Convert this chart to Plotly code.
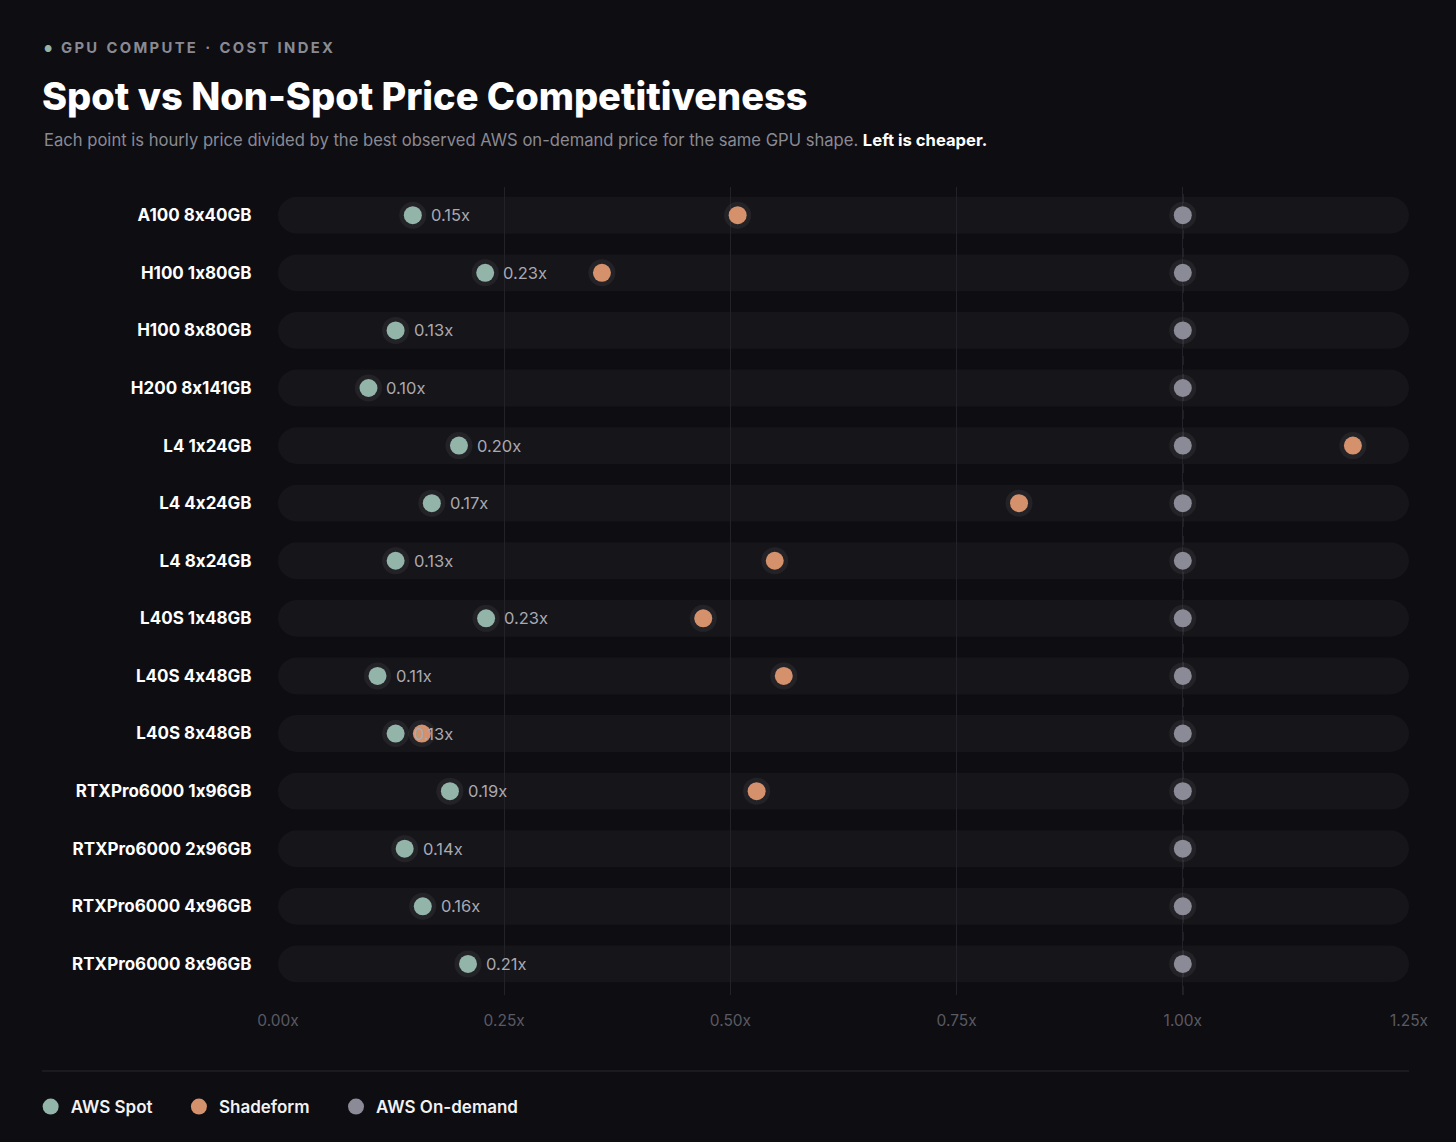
import plotly.graph_objects as go

# data (ratio to best AWS on-demand price)
shapes_gpu = ["A100 8x40GB", "H100 1x80GB", "H100 8x80GB", "H200 8x141GB",
              "L4 1x24GB", "L4 4x24GB", "L4 8x24GB", "L40S 1x48GB",
              "L40S 4x48GB", "L40S 8x48GB", "RTXPro6000 1x96GB",
              "RTXPro6000 2x96GB", "RTXPro6000 4x96GB", "RTXPro6000 8x96GB"]
aws_spot = [0.149, 0.229, 0.13, 0.10, 0.20, 0.17, 0.13, 0.23, 0.11, 0.13,
            0.19, 0.14, 0.16, 0.21]
shadeform = [0.508, 0.358, None, None, 1.188, 0.819, 0.549, 0.470, 0.559,
             0.159, 0.529, None, None, None]
aws_ondemand = [1.0] * 14
tick_vals = [0, 0.25, 0.5, 0.75, 1.0, 1.25]
tick_text = ["0.00x", "0.25x", "0.50x", "0.75x", "1.00x", "1.25x"]

BG = "#0e0d12"
SPOT_C = "#93b4a9"
SHADE_C = "#d4916c"
OD_C = "#8b8a97"
FONT = "Inter"
NO_CALT = "font-feature-settings:'calt' 0;font-variant-ligatures:no-contextual"
PAD = "\u00a0" * 5  # a bit more room between legend items

rows = list(range(len(shapes_gpu)))
X_MAX = 1.25


def pill(x0, x1, yc, h, rx, k=0.5523):
    return (f"M {x0+rx},{yc-h} L {x1-rx},{yc-h} "
            f"C {x1-rx+k*rx},{yc-h} {x1},{yc-k*h} {x1},{yc} "
            f"C {x1},{yc+k*h} {x1-rx+k*rx},{yc+h} {x1-rx},{yc+h} "
            f"L {x0+rx},{yc+h} "
            f"C {x0+rx-k*rx},{yc+h} {x0},{yc+k*h} {x0},{yc} "
            f"C {x0},{yc-k*h} {x0+rx-k*rx},{yc-h} {x0+rx},{yc-h} Z")


fig = go.Figure()

# soft halos behind each dot
for xs in (aws_ondemand, shadeform, aws_spot):
    fig.add_trace(go.Scatter(x=xs, y=rows, mode="markers", hoverinfo="skip",
                             showlegend=False,
                             marker=dict(size=27, color="rgba(255,255,255,0.06)")))

fig.add_trace(go.Scatter(x=aws_ondemand, y=rows, mode="markers", name="AWS On-demand",
                         legendrank=3, marker=dict(size=18, color=OD_C)))
fig.add_trace(go.Scatter(x=shadeform, y=rows, mode="markers", name="Shadeform" + PAD,
                         legendrank=2, marker=dict(size=18, color=SHADE_C)))
fig.add_trace(go.Scatter(x=aws_spot, y=rows, mode="markers", name="AWS Spot" + PAD,
                         legendrank=1, marker=dict(size=18, color=SPOT_C)))

shapes = []
for r in rows:
    shapes.append(dict(type="path", xref="x", yref="y", layer="below",
                       path=pill(0, X_MAX, r, 0.32, 0.021),
                       fillcolor="rgba(255,255,255,0.035)", line=dict(width=0)))
shapes.append(dict(type="line", xref="x", yref="paper", x0=1.0, x1=1.0, y0=0, y1=1,
                   layer="below", line=dict(color="#3d3d45", width=1.2, dash="dash")))
shapes.append(dict(type="line", xref="paper", yref="paper", x0=-0.2087, x1=1,
                   y0=-0.094, y1=-0.094, line=dict(color="#1f1f24", width=1.5)))

eyebrow = "\u2009".join("GPU COMPUTE · COST INDEX").replace("\u2009 \u2009", "\u2009\u2009\u2009\u2009")
annotations = [
    dict(text="●", x=-0.2087, y=1.172, xref="paper", yref="paper", xanchor="left",
         yanchor="middle", showarrow=False, font=dict(family=FONT, size=9, color=SPOT_C)),
    dict(text=eyebrow, x=-0.1935, y=1.172, xref="paper", yref="paper", xanchor="left",
         yanchor="middle", showarrow=False,
         font=dict(family=FONT, size=14.8, color="#8a8a92", weight=700)),
    dict(text="Spot vs Non-Spot Price Competitiveness", x=-0.2105, y=1.113,
         xref="paper", yref="paper", xanchor="left", yanchor="middle", showarrow=False,
         font=dict(family=FONT, size=38, color="#ffffff", weight=800)),
    dict(text="Each point is hourly price divided by the best observed AWS on-demand price "
              "for the same GPU shape. <span style='color:#ffffff;font-weight:700'>Left is cheaper.</span>",
         x=-0.2087, y=1.058, xref="paper", yref="paper", xanchor="left", yanchor="middle",
         showarrow=False, font=dict(family=FONT, size=16.6, color="#8a8a92")),
]

# value labels next to the spot dots
for v, r in zip(aws_spot, rows):
    annotations.append(dict(text=f"{v:.2f}x", x=v, y=r, xref="x", yref="y",
                            xanchor="left", yanchor="middle", xshift=16, showarrow=False,
                            font=dict(family=FONT, size=16.5, color="#a9a9b1")))

fig.update_layout(
    width=1456, height=1142,
    margin=dict(l=278, r=47, t=187, b=147),
    paper_bgcolor=BG, plot_bgcolor=BG,
    shapes=shapes, annotations=annotations,
    showlegend=True,
    legend=dict(orientation="h", x=-0.2187, y=-0.1386, xanchor="left", yanchor="middle",
                font=dict(family=FONT, size=17, color="#f2f2f4", weight=600),
                bgcolor="rgba(0,0,0,0)"),
    xaxis=dict(range=[0, X_MAX], tickvals=tick_vals, ticktext=tick_text,
               showgrid=True, gridcolor="#222228", gridwidth=1, zeroline=False,
               showline=False, ticks="outside", ticklen=11, tickcolor="rgba(0,0,0,0)",
               tickfont=dict(family=FONT, size=15.5, color="#5a5a62"), fixedrange=True),
    yaxis=dict(range=[13.54, -0.49], tickvals=rows,
               ticktext=[f'<span style="{NO_CALT}">{s}</span>' for s in shapes_gpu],
               showgrid=False, zeroline=False, showline=False,
               ticks="outside", ticklen=22, tickcolor="rgba(0,0,0,0)",
               tickfont=dict(family=FONT, size=17, color="#ffffff", weight=700),
               fixedrange=True),
)

fig.write_html("out.html", config={"displayModeBar": False},
               post_script="document.body.style.margin='0';")
